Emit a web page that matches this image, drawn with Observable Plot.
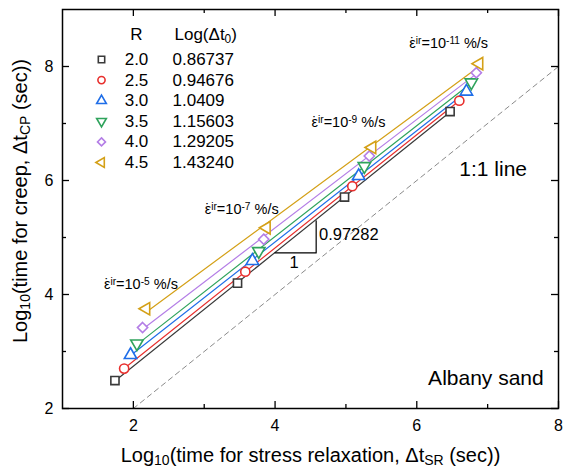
<!DOCTYPE html>
<html>
<head>
<meta charset="utf-8">
<script src="https://cdn.jsdelivr.net/npm/d3@7"></script>
<script src="https://cdn.jsdelivr.net/npm/@observablehq/plot@0.6"></script>
<style>
  html, body { margin: 0; padding: 0; background: #fff; }
</style>
</head>
<body>
<div id="chart"></div>
<script>
// ---- data ----
const R = ["2.0", "2.5", "3.0", "3.5", "4.0", "4.5"];
const logDt0 = ["0.86737", "0.94676", "1.0409", "1.15603", "1.29205", "1.43240"];
const logTSR = [
  [1.74, 3.47, 4.98, 6.47],
  [1.87, 3.58, 5.09, 6.60],
  [1.96, 3.68, 5.18, 6.70],
  [2.05, 3.77, 5.26, 6.77],
  [2.13, 3.84, 5.33, 6.84],
  [2.18, 3.88, 5.37, 6.88]
];
const logTCP = [
  [2.49, 4.20, 5.71, 7.21],
  [2.70, 4.40, 5.90, 7.40],
  [2.94, 4.59, 6.08, 7.56],
  [3.14, 4.76, 6.25, 7.72],
  [3.42, 4.97, 6.43, 7.89],
  [3.75, 5.17, 6.58, 8.05]
];
const majorTicks = [2, 4, 6, 8];
const minorTicks = [3, 5, 7];
const slopeValue = 0.97282;
const rateExponents = ["-5", "-7", "-9", "-11"];
const oneToOne = [2, 8];

// ---- styles ----
const colors = ["#3a3a3a", "#e8302e", "#1f6ee8", "#2fa35c", "#b47ee6", "#d4a017"];
const symbols = ["square", "circle", "triangle", "triangle", "diamond2", "triangle"];
const rotations = [0, 0, 0, 180, 0, -90];
const font = "'Liberation Sans', Arial, Helvetica, sans-serif";

const W = 563, H = 475;
const mL = 62, mR = 5, mT = 9, mB = 67;
const innerW = W - mL - mR, innerH = H - mT - mB;

const rows = R.map((r, i) => logTSR[i].map((x, j) => ({series: i, x, y: logTCP[i][j]})));

// annotation layout (data coordinates)
const rateLabelPos = [[1.585, 4.17], [3.007, 5.50], [4.514, 7.02], [5.894, 8.40]];
const tri = {x0: 4.0, x1: 4.58, y0: 4.73};
tri.y1 = tri.y0 + slopeValue * (tri.x1 - tri.x0);

const marks = [];

// 1:1 line
marks.push(Plot.line(oneToOne.map(v => ({x: v, y: v})), {
  x: "x", y: "y", stroke: "#8a8a8a", strokeWidth: 1, strokeDasharray: "5,4"
}));

// regression lines + points
rows.forEach((data, i) => {
  marks.push(Plot.linearRegressionY(data, {x: "x", y: "y", stroke: colors[i], strokeWidth: 1.2, ci: 0}));
});
rows.forEach((data, i) => {
  marks.push(Plot.dot(data, {
    x: "x", y: "y", symbol: symbols[i], rotate: rotations[i], r: 4.6,
    stroke: colors[i], strokeWidth: 1.6, fill: "white"
  }));
});

// slope triangle
marks.push(Plot.line([{x: tri.x0, y: tri.y0}, {x: tri.x1, y: tri.y0}, {x: tri.x1, y: tri.y1}], {
  x: "x", y: "y", stroke: "#000", strokeWidth: 1.2
}));
marks.push(Plot.text([String(slopeValue)], {
  x: tri.x1 + 0.04, y: (tri.y0 + tri.y1) / 2 + 0.03, text: d => d,
  textAnchor: "start", lineAnchor: "middle", fontSize: 16.5, fill: "#000"
}));
marks.push(Plot.text(["1"], {
  x: (tri.x0 + tri.x1) / 2 - 0.02, y: tri.y0 - 0.18, text: d => d,
  textAnchor: "middle", lineAnchor: "middle", fontSize: 16.5, fill: "#000"
}));

// rate labels
rateExponents.forEach((e, k) => {
  marks.push(Plot.text([`\u03B5\u0307^{ir}=10^{${e}} %/s`], {
    x: rateLabelPos[k][0], y: rateLabelPos[k][1], text: d => d,
    textAnchor: "start", lineAnchor: "middle", fontSize: 14.5, fill: "#000"
  }));
});

// corner texts
marks.push(Plot.text(["1:1 line"], {x: 6.60, y: 6.20, text: d => d, textAnchor: "start", lineAnchor: "middle", fontSize: 21, fill: "#000"}));
marks.push(Plot.text(["Albany sand"], {x: 6.16, y: 2.53, text: d => d, textAnchor: "start", lineAnchor: "middle", fontSize: 21, fill: "#000"}));

// legend
marks.push(Plot.text(["R"], {frameAnchor: "top-left", dx: 74, dy: 25, text: d => d, textAnchor: "middle", lineAnchor: "middle", fontSize: 17, fill: "#000"}));
marks.push(Plot.text(["Log(\u0394t_{0})"], {frameAnchor: "top-left", dx: 112, dy: 25, text: d => d, textAnchor: "start", lineAnchor: "middle", fontSize: 17, fill: "#000"}));
R.forEach((r, i) => {
  const dy = 50 + 20.6 * i;
  marks.push(Plot.dot([r], {frameAnchor: "top-left", dx: 39, dy, symbol: symbols[i], rotate: rotations[i], r: 3.6, stroke: colors[i], strokeWidth: 1.6, fill: "white"}));
  marks.push(Plot.text([r], {frameAnchor: "top-left", dx: 74, dy, text: d => d, textAnchor: "middle", lineAnchor: "middle", fontSize: 17, fill: "#000"}));
  marks.push(Plot.text([logDt0[i]], {frameAnchor: "top-left", dx: 110, dy, text: d => d, textAnchor: "start", lineAnchor: "middle", fontSize: 17, fill: "#000"}));
});

// inward ticks on all four sides
const tk = {stroke: "#000", strokeWidth: 1.3};
marks.push(Plot.tickX(majorTicks, {x: d => d, insetTop: innerH - 7, ...tk}));
marks.push(Plot.tickX(minorTicks, {x: d => d, insetTop: innerH - 4, ...tk}));
marks.push(Plot.tickX(majorTicks, {x: d => d, insetBottom: innerH - 7, ...tk}));
marks.push(Plot.tickX(minorTicks, {x: d => d, insetBottom: innerH - 4, ...tk}));
marks.push(Plot.tickY(majorTicks, {y: d => d, insetRight: innerW - 7, ...tk}));
marks.push(Plot.tickY(minorTicks, {y: d => d, insetRight: innerW - 4, ...tk}));
marks.push(Plot.tickY(majorTicks, {y: d => d, insetLeft: innerW - 7, ...tk}));
marks.push(Plot.tickY(minorTicks, {y: d => d, insetLeft: innerW - 4, ...tk}));

// tick labels
marks.push(Plot.axisX({ticks: majorTicks, tickSize: 0, tickPadding: 11, fontSize: 16, label: null, tickFormat: d => String(d)}));
marks.push(Plot.axisY({ticks: majorTicks, tickSize: 0, tickPadding: 9, fontSize: 16, label: null, tickFormat: d => String(d)}));

// axis titles
marks.push(Plot.text(["Log_{10}(time for stress relaxation, \u0394t_{SR} (sec))"], {
  frameAnchor: "bottom", dy: 47, text: d => d, textAnchor: "middle", lineAnchor: "middle", fontSize: 20, fill: "#000"
}));
marks.push(Plot.text(["Log_{10}(time for creep, \u0394t_{CP} (sec))"], {
  frameAnchor: "left", dx: -42, dy: -8, rotate: -90, text: d => d, textAnchor: "middle", lineAnchor: "middle", fontSize: 20, fill: "#000"
}));

marks.push(Plot.frame({stroke: "#000", strokeWidth: 1.5}));

const plot = Plot.plot({
  width: W, height: H,
  marginLeft: mL, marginRight: mR, marginTop: mT, marginBottom: mB,
  x: {domain: [1, 8]},
  y: {domain: [2, 9]},
  style: {fontFamily: font, fontSize: "15px", background: "white", color: "#000", overflow: "visible"},
  marks
});

document.getElementById("chart").appendChild(plot);

// convert _{..}, ^{..} markup and the over-dot into tspans
d3.select(plot).selectAll("text").each(function () {
  const s = this.textContent;
  if (!/[_^]\{|\u0307/.test(s)) return;
  const fs = parseFloat(getComputedStyle(this).fontSize) || 15;
  const el = d3.select(this);
  el.text(null);
  let pendingDx = 0;
  const add = (txt) => {
    const t = el.append("tspan").text(txt);
    if (pendingDx) { t.attr("dx", pendingDx); pendingDx = 0; }
    return t;
  };
  const re = /([_^])\{([^}]*)\}|([^_^]+)/g;
  let m;
  while ((m = re.exec(s))) {
    if (m[3] !== undefined) {
      const parts = m[3].split("\u0307");
      parts.forEach((p, k) => {
        if (k > 0) {
          const dot = add("\u02D9");
          dot.attr("dx", -0.40 * fs);
          pendingDx = 0.07 * fs;
        }
        if (p) add(p);
      });
    } else {
      add(m[2])
        .attr("baseline-shift", m[1] === "_" ? "-22%" : "38%")
        .attr("font-size", "70%");
    }
  }
});
</script>
</body>
</html>
